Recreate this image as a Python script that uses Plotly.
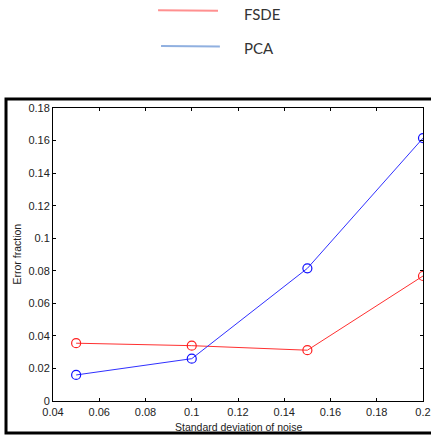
import plotly.graph_objects as go

noise_std = [0.05, 0.10, 0.15, 0.20]
fsde_err = [0.0355, 0.0340, 0.0312, 0.0768]
pca_err = [0.0160, 0.0260, 0.0815, 0.1615]

x_ticks = [0.04, 0.06, 0.08, 0.1, 0.12, 0.14, 0.16, 0.18, 0.2]
x_tick_labels = ["0.04", "0.06", "0.08", "0.1", "0.12", "0.14", "0.16", "0.18", "0.2"]
y_ticks = [0, 0.02, 0.04, 0.06, 0.08, 0.1, 0.12, 0.14, 0.16, 0.18]
y_tick_labels = ["0", "0.02", "0.04", "0.06", "0.08", "0.1", "0.12", "0.14", "0.16", "0.18"]

fig = go.Figure()
fig.add_trace(go.Scatter(x=noise_std, y=fsde_err, mode="lines+markers", name="FSDE",
                         line=dict(color="#ff3030", width=1),
                         marker=dict(symbol="circle-open", size=9, color="#ff2020", line=dict(width=1.2))))
fig.add_trace(go.Scatter(x=noise_std, y=pca_err, mode="lines+markers", name="PCA",
                         line=dict(color="#3030ff", width=1),
                         marker=dict(symbol="circle-open", size=9, color="#1010ff", line=dict(width=1.2))))

axis_common = dict(showline=True, linecolor="black", linewidth=1, mirror="allticks",
                   ticks="inside", ticklen=3, tickcolor="black", showgrid=False, zeroline=False,
                   automargin=False,
                   tickfont=dict(family="Liberation Sans, Arial", size=11, color="#222"))
fig.update_xaxes(range=[0.04, 0.2], tickvals=x_ticks, ticktext=x_tick_labels,
                 ticklabelstandoff=1, **axis_common)
fig.update_yaxes(range=[0, 0.18], tickvals=y_ticks, ticktext=y_tick_labels, **axis_common)

fig.update_layout(
    width=431, height=437,
    margin=dict(l=53, r=8, t=108, b=36),
    plot_bgcolor="white", paper_bgcolor="white",
    showlegend=False,
    shapes=[
        dict(type="rect", xref="paper", yref="paper", x0=-0.127, x1=1.1, y0=-0.109, y1=1.031,
             line=dict(color="black", width=3)),
        dict(type="line", xref="paper", yref="paper", x0=0.284, x1=0.446, y0=1.334, y1=1.332,
             line=dict(color="#ff9090", width=2)),
        dict(type="line", xref="paper", yref="paper", x0=0.292, x1=0.451, y0=1.212, y1=1.210,
             line=dict(color="#90b0e0", width=2)),
    ],
    annotations=[
        dict(text="FSDE", xref="paper", yref="paper", x=0.511, y=1.321, xanchor="left", yanchor="middle",
             showarrow=False, font=dict(family="Lato, Open Sans", size=15, color="#333")),
        dict(text="PCA", xref="paper", yref="paper", x=0.511, y=1.205, xanchor="left", yanchor="middle",
             showarrow=False, font=dict(family="Lato, Open Sans", size=15, color="#333")),
        dict(text="Standard deviation of noise", xref="paper", yref="paper", x=0.5, y=-0.09,
             xanchor="center", yanchor="middle", showarrow=False,
             font=dict(family="Liberation Sans, Arial", size=10.5, color="#222")),
        dict(text="Error fraction", xref="paper", yref="paper", x=-0.1, y=0.5, textangle=-90,
             xanchor="center", yanchor="middle", showarrow=False,
             font=dict(family="Liberation Sans, Arial", size=10.5, color="#222")),
    ],
)

fig.write_html("out.html")
